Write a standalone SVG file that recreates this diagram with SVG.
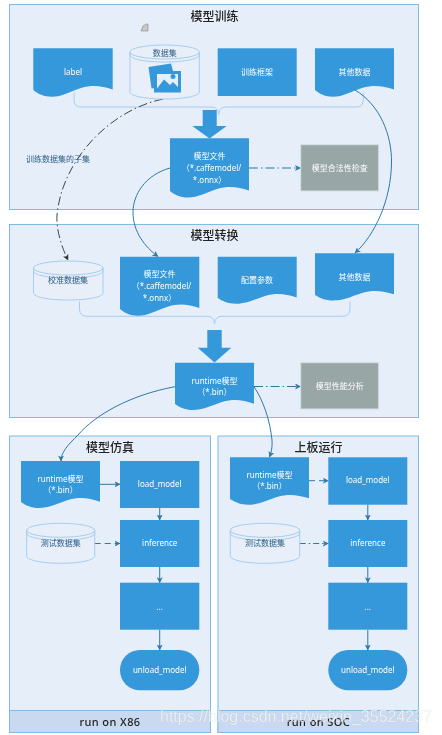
<svg xmlns="http://www.w3.org/2000/svg" width="442" height="735" viewBox="0 0 442 735">
<style>
.panel{fill:#e6eefa;stroke:#7fbbe3;stroke-width:1}
.foot{fill:#c9daf0;stroke:#7fbbe3;stroke-width:1}
.blue{fill:#3498db}
.gray{fill:#98a6a6;stroke:#d5e0e6;stroke-width:1}
.cyl{fill:#e8eff9;stroke:#a6cdf0;stroke-width:1}
.rim{fill:none;stroke:#a6cdf0;stroke-width:1}
.brace{fill:none;stroke:#a6cdf0;stroke-width:1}
.c{fill:none;stroke:#2f78a8;stroke-width:1}
.t{font-family:"Noto Sans","Noto Sans CJK SC",sans-serif;text-anchor:middle}
.title{font-size:12px;font-weight:500;fill:#222}
.w{font-size:8px;fill:#fff}
.d{font-size:8px;fill:#2f5d80}
.foott{font-size:11px;font-weight:500;fill:#222;letter-spacing:.4px}
.wm{font-family:"Liberation Sans",Arial,sans-serif;font-size:16px;fill:#fff;fill-opacity:.7;stroke:#8a8a8a;stroke-opacity:.2;stroke-width:.4}
</style>
<defs>
<filter id="soft" x="0" y="0" width="100%" height="100%"><feGaussianBlur stdDeviation="0.35"/></filter>
<marker id="ah" viewBox="0 0 6 6" refX="5.5" refY="3" markerWidth="6" markerHeight="6" orient="auto" markerUnits="userSpaceOnUse"><path d="M0 0L6 3L0 6L1.500 3Z" fill="#2f78a8"/></marker>
<marker id="ak" viewBox="0 0 6 6" refX="5.5" refY="3" markerWidth="6" markerHeight="6" orient="auto" markerUnits="userSpaceOnUse"><path d="M0 0L6 3L0 6L1.500 3Z" fill="#333"/></marker>
</defs>
<rect width="442" height="735" fill="#fff"/>
<g filter="url(#soft)">
<g id="panel-train">
<rect class="panel" x="9.5" y="4.5" width="409" height="205"/>
<text class="t title" x="214.5" y="21">模型训练</text>
<path d="M141 31L143 26L146 24H148V31Z" fill="#c8c8c8" stroke="#777" stroke-width=".5"/>
</g>
<g id="panel-convert">
<rect class="panel" x="9.5" y="224.5" width="409" height="193"/>
<text class="t title" x="214.5" y="240">模型转换</text>
</g>
<g id="panel-sim">
<rect class="panel" x="9.5" y="436" width="201" height="296.5"/>
<rect class="foot" x="9.5" y="710.5" width="201" height="22"/>
<text class="t title" x="110" y="452">模型仿真</text>
<text class="t foott" x="110" y="726">run on X86</text>
</g>
<g id="panel-board">
<rect class="panel" x="218" y="436" width="200.5" height="296.5"/>
<rect class="foot" x="218" y="710.5" width="200.5" height="22"/>
<text class="t title" x="318.5" y="452">上板运行</text>
<text class="t foott" x="318.5" y="726">run on SOC</text>
</g>
<g id="connectors">
<path class="brace" d="M74 92.500V100Q74 107 81 107H211Q218.500 107 218.700 114.500Q219 107 226 107H356Q363.300 107 363.300 100V92.500"/>
<path class="brace" d="M79.500 301.500V309Q79.500 316.300 87 316.300H207Q214.300 316.300 214.500 323.700Q215 316.300 222 316.300H342Q350 316.300 350 309V301.500"/>
<path class="c" style="stroke:#444" stroke-dasharray="9 3 1.500 3" marker-end="url(#ak)" d="M163 99C110 110 62 160 57 215C56 230 62 248 68 260"/>
<path class="c" marker-end="url(#ah)" d="M170 168C145 175 133 195 133 212C133 232 145 247 158 256.500"/>
<path class="c" marker-end="url(#ah)" d="M355 90C380 105 392 135 391.500 163C391 200 375 235 355 253"/>
<path class="c" stroke-dasharray="9 3 1.500 3" marker-end="url(#ah)" d="M249 168H300.500"/>
<path class="c" stroke-dasharray="9 3 1.500 3" marker-end="url(#ah)" d="M254 386.500H300.500"/>
<path class="c" marker-end="url(#ah)" d="M175 386.700C130 395 95 415 78 435C68 445 61 452 61 461"/>
<path class="c" marker-end="url(#ah)" d="M254 386.700C263 400 270 420 272 440C272.500 448 271 453 269.500 457"/>
<path class="c" marker-end="url(#ah)" d="M100 484.300H120"/>
<path class="c" stroke-dasharray="6 4" marker-end="url(#ah)" d="M94.700 543.500H120"/>
<path class="c" marker-end="url(#ah)" d="M159.700 508V520"/>
<path class="c" marker-end="url(#ah)" d="M159.700 567V582.700"/>
<path class="c" marker-end="url(#ah)" d="M159.700 630V650"/>
<path class="c" stroke-dasharray="6 4" marker-end="url(#ah)" d="M309 480.700H328.300"/>
<path class="c" stroke-dasharray="6 3 1.500 3" marker-end="url(#ah)" d="M299.700 543.500H328.300"/>
<path class="c" marker-end="url(#ah)" d="M367.800 504.700V520"/>
<path class="c" marker-end="url(#ah)" d="M367.800 567V582.700"/>
<path class="c" marker-end="url(#ah)" d="M367.800 630V650"/>
</g>
<g id="arrow-train"><path class="blue" d="M202.700 110H216.700V126H226.700L209.500 138.500L192.300 126H202.700Z"/></g>
<g id="arrow-convert"><path class="blue" d="M207.300 330H221.700V347.700H231.300L214.500 362.500L197.700 347.700H207.300Z"/></g>
<g id="label-doc"><path class="blue" d="M33.300 48.300H112.700V89.500C102 86 93 84.500 81 88C69 92 62 96.700 52 96.700C44 96.700 38 94 33.300 90Z"/>
<text class="t w" x="73" y="75">label</text></g>
<g id="dataset">
<path class="cyl" d="M130 52V92C130 96 145 99 164.700 99S199.300 96 199.300 92V52"/>
<ellipse class="cyl" cx="164.700" cy="52" rx="34.700" ry="7"/>
<path class="rim" d="M130 52V55C130 59 145 62 164.700 62S199.300 59 199.300 55V52"/>
<path d="M148.500 67L171 63.500L173 71H155.500V88L151.500 88.500Z" fill="#3498db"/>
<path fill-rule="evenodd" d="M154 71H181V92.500H154ZM157 74V88.500L164 79.500L170 85L173 82L178 87V74Z" fill="#3498db"/>
<circle cx="173" cy="76.500" r="2.500" fill="#3498db"/>
<text class="t d" x="164.700" y="56">数据集</text>
</g>
<g id="framework"><rect class="blue" x="217.700" y="48.300" width="79" height="47.700"/>
<text class="t w" x="257" y="75">训练框架</text></g>
<g id="other-1"><path class="blue" d="M315 48.300H394V89.500C383 86 374 84.500 362 88C350 92 343 96.700 333 96.700C325 96.700 320 94 315 90Z"/>
<text class="t w" x="354.500" y="75">其他数据</text></g>
<g id="model-file-1"><path class="blue" d="M170 138.300H249V190.500C238 187 229 185.500 217 189C205 193 198 197.500 188 197.500C180 197.500 175 195 170 191Z"/>
<text class="t w" x="209.500" y="159">模型文件</text>
<text class="t w" x="211.500" y="171">（*.caffemodel/</text>
<text class="t w" x="209.500" y="183">*.onnx）</text></g>
<g id="check"><rect class="gray" x="300.700" y="144.700" width="78" height="46.300"/>
<text class="t w" x="339.700" y="171">模型合法性检查</text></g>
<text class="t d" x="58" y="162" id="subset-label">训练数据集的子集</text>
<g id="calib">
<path class="cyl" d="M33.500 268V293C33.500 297 48 300 68.200 300S103 297 103 293V268"/>
<ellipse class="cyl" cx="68.200" cy="268" rx="34.700" ry="7"/>
<path class="rim" d="M33.500 268V271C33.500 275 48 278 68.200 278S103 275 103 271V268"/>
<text class="t d" x="68" y="283">校准数据集</text>
</g>
<g id="model-file-2"><path class="blue" d="M120 256.700H199.300V308C188 304.500 179 303 167 307C155 311 148 315.700 138 315.700C130 315.700 125 313 120 309Z"/>
<text class="t w" x="159.500" y="277">模型文件</text>
<text class="t w" x="161.500" y="289">（*.caffemodel/</text>
<text class="t w" x="159.500" y="301">*.onnx）</text></g>
<g id="config"><path class="blue" d="M217.700 256.700H296.700V297.500C286 294 277 292.500 265 296C253 300 246 303.700 236 303.700C228 303.700 222 301 217.700 298Z"/>
<text class="t w" x="257" y="283">配置参数</text></g>
<g id="other-2"><path class="blue" d="M315 253.300H394V294.300C383 291 374 289.500 362 293C350 297 343 300.500 333 300.500C325 300.500 320 298 315 295Z"/>
<text class="t w" x="354.500" y="280">其他数据</text></g>
<g id="runtime"><path class="blue" d="M175 362.700H254V403.700C243 400 234 398.500 222 402C210 406 203 410 193 410C185 410 180 407.500 175 404Z"/>
<text class="t w" x="214.500" y="384">runtime模型</text>
<text class="t w" x="214.500" y="395">（*.bin）</text></g>
<g id="perf"><rect class="gray" x="300.700" y="362.700" width="78" height="46.300"/>
<text class="t w" x="339.700" y="389">模型性能分析</text></g>
<g id="sim-runtime"><path class="blue" d="M21 461H100V501.700C89 498 80 496.500 68 500C56 504 49 508 39 508C31 508 26 505.500 21 502Z"/>
<text class="t w" x="60.500" y="482">runtime模型</text>
<text class="t w" x="60.500" y="493">（*.bin）</text></g>
<g id="sim-load"><rect class="blue" x="120" y="461" width="79.300" height="47"/><text class="t w" x="159.700" y="487">load_model</text></g>
<g id="sim-inference"><rect class="blue" x="120" y="520" width="79.300" height="47"/><text class="t w" x="159.700" y="546">inference</text></g>
<g id="sim-dots"><rect class="blue" x="120" y="582.700" width="79.300" height="47"/><text class="t w" x="159.700" y="610">...</text></g>
<g id="sim-unload"><rect class="blue" x="120" y="650" width="79.300" height="40.300" rx="20" ry="20"/><text class="t w" x="159.700" y="673">unload_model</text></g>
<g id="sim-test">
<path class="cyl" d="M26.700 530.300V556C26.700 560 41 563.300 60.700 563.300S94.700 560 94.700 556V530.300"/>
<ellipse class="cyl" cx="60.700" cy="530.300" rx="34" ry="7"/>
<path class="rim" d="M26.700 530.300V533.300C26.700 537 41 540.300 60.700 540.300S94.700 537 94.700 533.300V530.300"/>
<text class="t d" x="60.700" y="546">测试数据集</text>
</g>
<g id="board-runtime"><path class="blue" d="M230 457.300H309V498.300C298 495 289 493.500 277 497C265 501 258 504.700 248 504.700C240 504.700 235 502 230 499Z"/>
<text class="t w" x="269.500" y="478">runtime模型</text>
<text class="t w" x="269.500" y="489">（*.bin）</text></g>
<g id="board-load"><rect class="blue" x="328.300" y="457.300" width="79" height="47.400"/><text class="t w" x="367.800" y="483">load_model</text></g>
<g id="board-inference"><rect class="blue" x="328.300" y="520" width="79" height="47"/><text class="t w" x="367.800" y="546">inference</text></g>
<g id="board-dots"><rect class="blue" x="328.300" y="582.700" width="79" height="47"/><text class="t w" x="367.800" y="610">...</text></g>
<g id="board-unload"><rect class="blue" x="328.300" y="650" width="79" height="40.300" rx="20" ry="20"/><text class="t w" x="367.800" y="673">unload_model</text></g>
<g id="board-test">
<path class="cyl" d="M230.300 530.300V556C230.300 560 245 563.300 265 563.300S299.700 560 299.700 556V530.300"/>
<ellipse class="cyl" cx="265" cy="530.300" rx="34.700" ry="7"/>
<path class="rim" d="M230.300 530.300V533.300C230.300 537 245 540.300 265 540.300S299.700 537 299.700 533.300V530.300"/>
<text class="t d" x="265" y="546">测试数据集</text>
</g>
<text class="wm" x="160" y="722" textLength="272" lengthAdjust="spacingAndGlyphs">https://blog.csdn.net/weixin_35524237</text>
</g>
</svg>
